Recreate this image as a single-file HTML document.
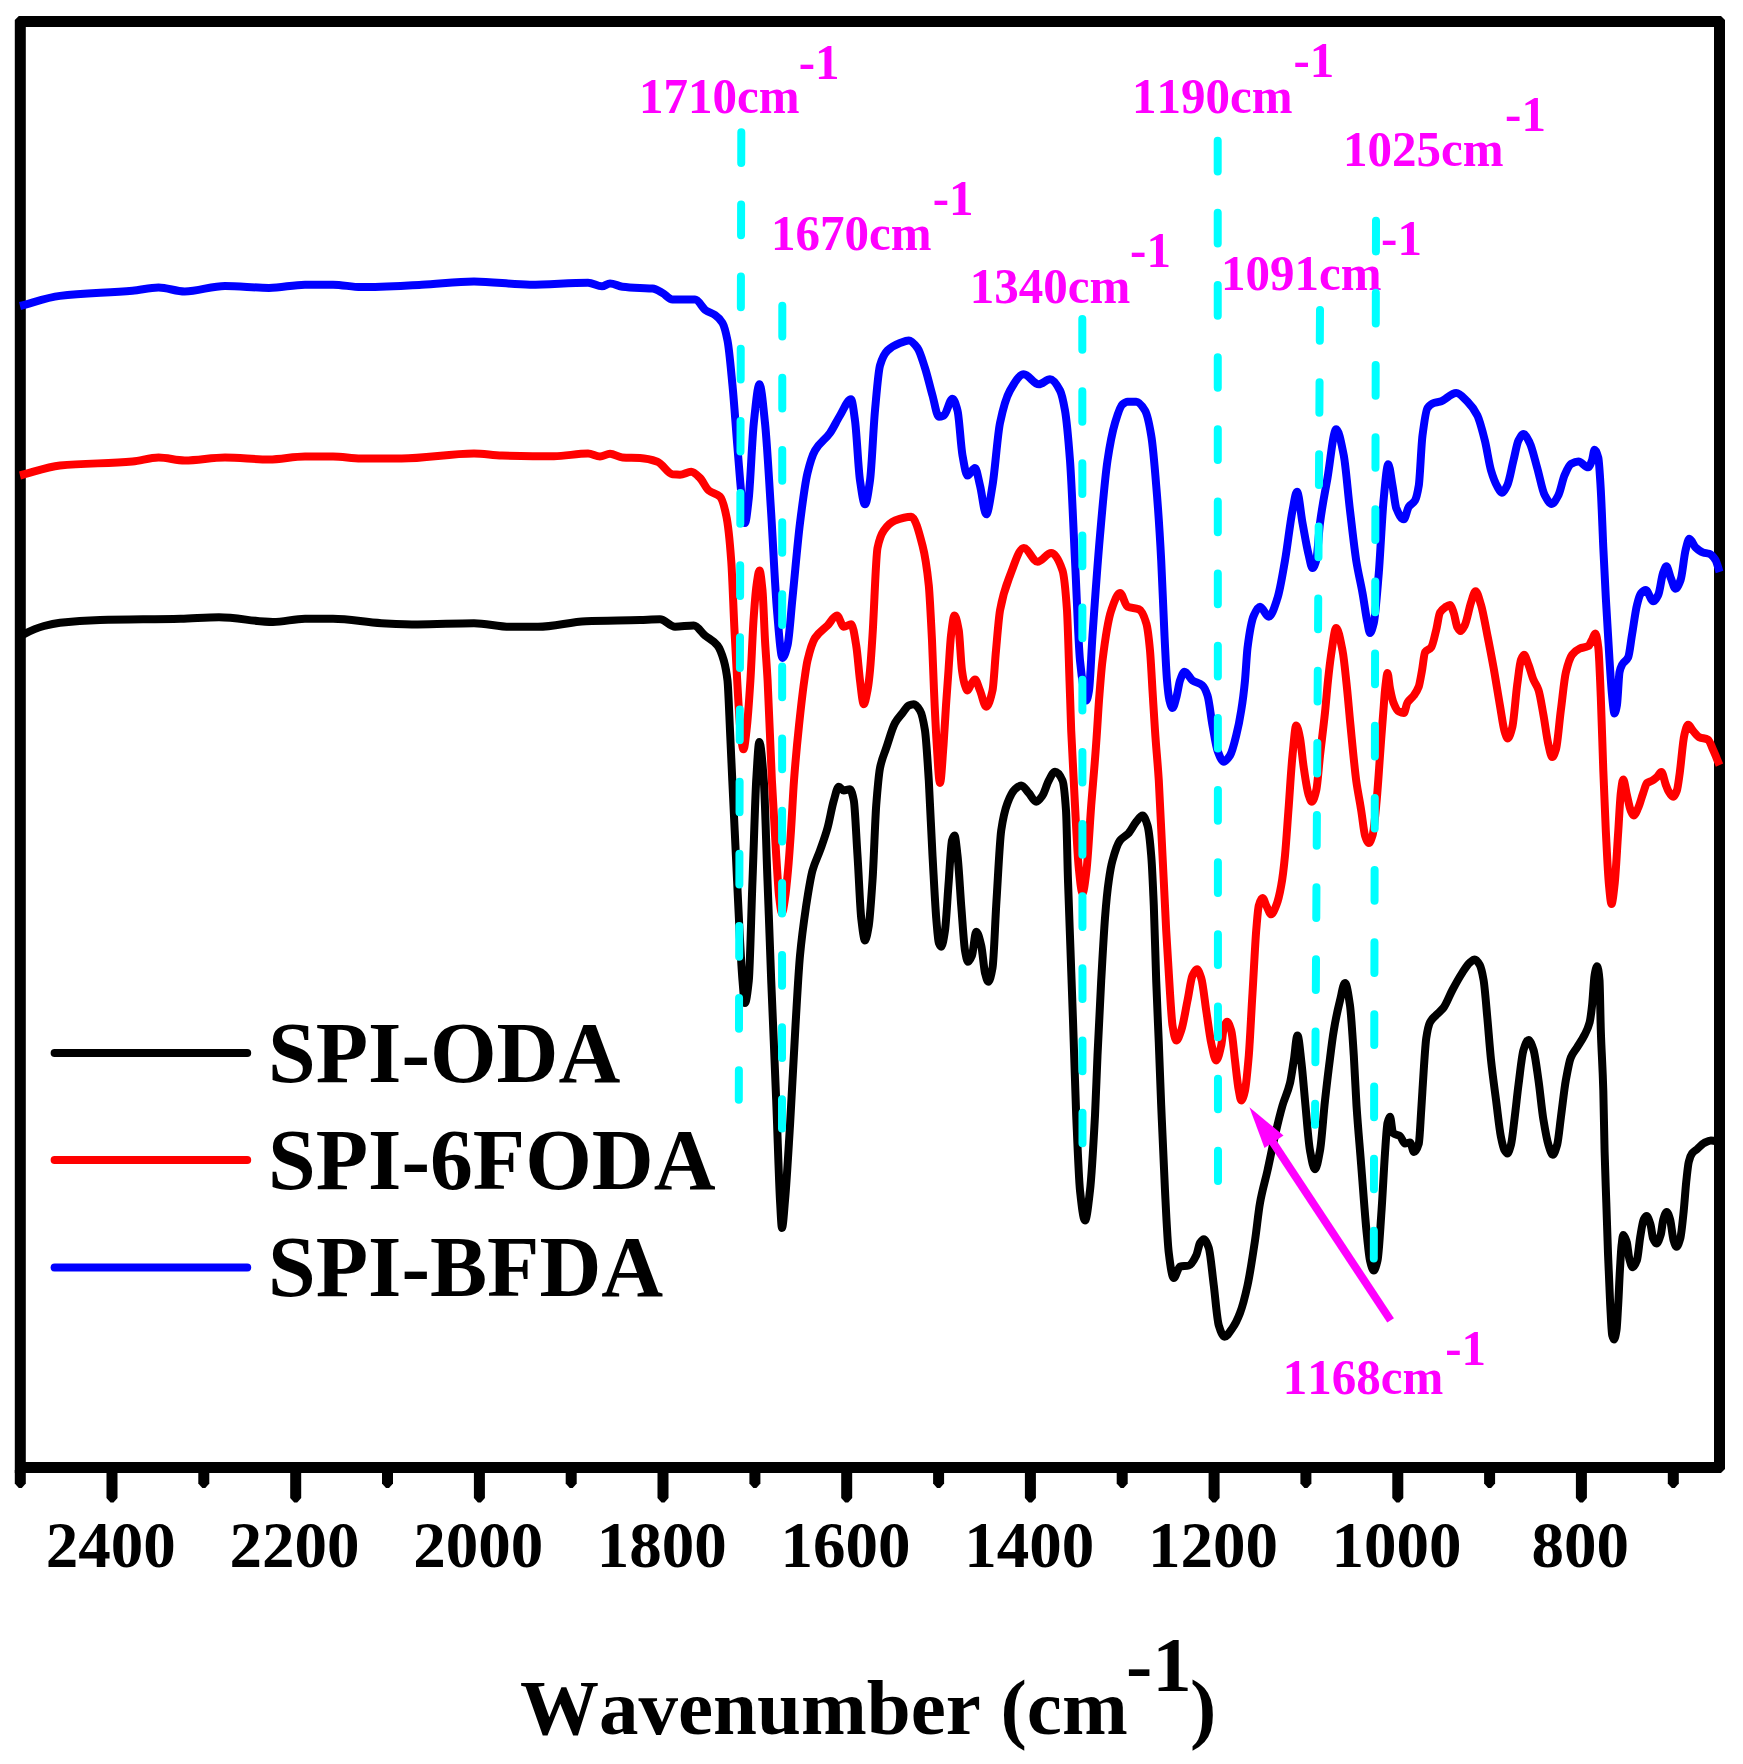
<!DOCTYPE html>
<html><head><meta charset="utf-8"><title>FTIR spectra</title>
<style>
html,body{margin:0;padding:0;background:#fff;}
svg{display:block;}
text{font-family:"Liberation Serif","Times New Roman",serif;font-weight:bold;font-kerning:none;}
.cv{fill:none;stroke-width:8;stroke-linejoin:round;stroke-linecap:butt;}
.cy{fill:none;stroke:#00ffff;stroke-width:8;stroke-linecap:round;stroke-dasharray:30.7 41.45;}
.mg{fill:#ff00ff;font-size:49px;}
.tk{font-size:65px;text-anchor:middle;fill:#000;}
.lg{font-size:85.7px;fill:#000;}
</style></head><body>
<svg width="1743" height="1764" viewBox="0 0 1743 1764">
<rect x="0" y="0" width="1743" height="1764" fill="#fff"/>
<path fill="#000" fill-rule="evenodd" d="M18.8 16H1721L1725 20V1469L1721 1473H14.8V20ZM25.8 27V1462H1714V27Z"/>
<g transform="translate(0 0.5)">
<path class="cv" stroke="#000" d="M20.0 636.0C21.3 635.2 22.7 634.3 24.0 633.6C30.7 630.2 37.3 627.3 44.0 625.5C49.3 624.1 54.7 622.9 60.0 622.3C73.3 620.8 86.7 619.9 100.0 619.5C126.9 618.8 153.8 618.9 180.7 618.3C193.5 618.0 206.2 616.7 219.0 616.7C237.0 616.7 255.0 621.5 273.0 621.5C283.7 621.5 294.3 618.3 305.0 618.3C314.3 618.3 323.7 618.3 333.0 618.3C349.2 618.3 365.3 621.9 381.5 622.7C393.6 623.3 405.6 624.0 417.7 624.0C436.5 624.0 455.2 622.7 474.0 622.7C486.0 622.7 498.0 626.3 510.0 626.3C519.3 626.3 528.7 626.3 538.0 626.3C554.0 626.3 570.0 621.3 586.0 620.7C604.0 620.0 622.0 620.0 640.0 619.5C646.7 619.3 653.3 618.8 660.0 618.8C665.0 618.8 670.0 626.2 675.0 626.2C681.2 626.2 687.5 625.0 693.8 625.0C697.5 625.0 701.2 631.8 705.0 635.0C709.2 638.5 713.3 639.7 717.5 645.0C719.6 647.6 721.7 652.9 723.8 660.0C725.0 664.3 726.2 669.1 727.5 680.0C728.3 687.3 729.2 712.6 730.0 730.0C730.8 746.0 731.5 763.7 732.3 780.0C733.5 805.6 734.7 830.0 735.9 855.0C737.1 880.0 738.3 907.9 739.5 930.0C740.5 948.5 741.5 968.4 742.5 980.0C743.3 989.7 744.2 1002.5 745.0 1002.5C746.2 1002.5 747.5 992.2 748.8 980.0C750.0 967.8 751.2 913.3 752.5 880.0C753.8 846.7 755.0 801.2 756.2 780.0C757.3 762.8 758.3 741.5 759.3 741.5C760.8 741.5 762.3 760.3 763.8 780.0C765.0 796.6 766.2 846.7 767.5 880.0C768.8 913.3 770.0 948.3 771.2 980.0C772.9 1022.2 774.6 1057.8 776.2 1100.0C777.5 1131.7 778.8 1178.0 780.0 1200.0C780.7 1211.7 781.3 1227.5 782.0 1227.5C783.0 1227.5 784.0 1211.2 785.0 1200.0C786.7 1181.4 788.3 1152.4 790.0 1125.0C791.8 1094.9 793.7 1055.7 795.5 1025.0C797.0 999.9 798.5 971.1 800.0 955.0C802.1 932.6 804.2 918.7 806.2 905.0C808.3 891.3 810.4 877.6 812.5 870.0C815.0 860.9 817.5 857.1 820.0 850.0C822.5 842.9 825.0 836.5 827.5 827.5C829.6 820.0 831.7 807.0 833.8 800.0C835.4 794.4 837.1 786.2 838.8 786.2C840.4 786.2 842.1 790.0 843.8 790.0C845.8 790.0 847.9 788.8 850.0 788.8C851.2 788.8 852.5 793.8 853.8 800.0C855.0 806.2 856.2 835.5 857.5 855.0C858.8 874.5 860.0 906.5 861.2 917.5C862.5 928.5 863.8 940.0 865.0 940.0C866.2 940.0 867.5 932.5 868.8 925.0C870.0 917.5 871.2 898.8 872.5 880.0C873.8 861.2 875.0 821.7 876.2 805.0C877.5 788.3 878.8 773.8 880.0 767.5C882.1 756.9 884.2 753.8 886.2 747.5C889.2 738.7 892.1 727.8 895.0 722.5C897.5 718.0 900.0 715.7 902.5 712.5C904.6 709.9 906.7 705.8 908.8 705.0C910.4 704.3 912.1 703.8 913.8 703.8C915.8 703.8 917.9 706.6 920.0 710.0C921.7 712.7 923.3 719.5 925.0 730.0C926.2 737.9 927.5 760.0 928.8 780.0C930.0 800.0 931.2 832.3 932.5 855.0C933.8 877.7 935.0 902.1 936.2 917.5C937.1 927.7 937.9 940.3 938.8 942.5C939.6 944.7 940.4 946.2 941.2 946.2C942.5 946.2 943.8 938.2 945.0 930.0C946.2 921.8 947.5 896.0 948.8 880.0C949.8 866.1 950.9 843.6 952.0 840.0C952.8 837.2 953.7 835.0 954.5 835.0C955.5 835.0 956.5 846.2 957.5 855.0C958.8 866.0 960.0 889.2 961.2 905.0C962.5 920.8 963.8 943.0 965.0 950.0C966.0 955.6 967.0 961.2 968.0 961.2C969.3 961.2 970.7 958.2 972.0 955.0C973.4 951.6 974.8 931.2 976.2 931.2C977.9 931.2 979.6 938.2 981.2 945.0C982.5 950.1 983.8 967.6 985.0 972.5C986.1 976.7 987.2 981.2 988.2 981.2C989.7 981.2 991.1 975.3 992.5 967.5C993.8 960.6 995.0 924.8 996.2 905.0C997.9 878.6 999.6 841.6 1001.2 830.0C1003.3 815.5 1005.4 808.0 1007.5 802.5C1010.0 795.9 1012.5 791.0 1015.0 788.8C1017.1 786.9 1019.2 785.0 1021.2 785.0C1023.8 785.0 1026.2 789.8 1028.8 792.5C1031.2 795.2 1033.8 801.2 1036.2 801.2C1038.3 801.2 1040.4 797.9 1042.5 795.0C1044.6 792.1 1046.7 783.7 1048.8 780.0C1050.8 776.3 1052.9 771.2 1055.0 771.2C1057.5 771.2 1060.0 774.3 1062.5 780.0C1063.7 782.6 1064.8 793.0 1066.0 810.0C1066.7 819.7 1067.3 859.2 1068.0 880.0C1068.8 906.0 1069.7 926.7 1070.5 950.0C1071.3 973.3 1072.2 996.2 1073.0 1020.0C1074.1 1051.0 1075.2 1089.2 1076.2 1115.0C1077.5 1144.8 1078.8 1178.2 1080.0 1190.0C1081.7 1205.8 1083.3 1220.0 1085.0 1220.0C1086.7 1220.0 1088.3 1204.3 1090.0 1190.0C1091.7 1175.7 1093.3 1146.6 1095.0 1115.0C1095.8 1099.2 1096.7 1073.3 1097.5 1055.0C1098.8 1027.6 1100.0 1002.7 1101.2 980.0C1102.5 957.3 1103.8 933.1 1105.0 917.5C1106.2 901.9 1107.5 888.7 1108.8 880.0C1110.0 871.3 1111.2 864.6 1112.5 860.0C1115.0 850.8 1117.5 843.3 1120.0 840.0C1122.9 836.2 1125.8 835.7 1128.8 832.5C1131.2 829.8 1133.8 824.2 1136.2 821.2C1138.3 818.8 1140.4 815.0 1142.5 815.0C1144.2 815.0 1145.8 819.5 1147.5 825.0C1148.8 829.1 1150.0 840.3 1151.2 855.0C1152.1 864.8 1152.9 885.0 1153.8 905.0C1154.6 925.0 1155.4 957.3 1156.2 980.0C1157.1 1002.7 1157.9 1021.7 1158.8 1042.5C1159.6 1063.3 1160.4 1085.1 1161.2 1105.0C1162.5 1134.8 1163.8 1166.0 1165.0 1190.0C1166.2 1214.0 1167.5 1242.6 1168.8 1252.5C1170.4 1265.7 1172.1 1277.5 1173.8 1277.5C1175.8 1277.5 1177.9 1266.8 1180.0 1266.2C1182.9 1265.4 1185.8 1265.8 1188.8 1265.0C1191.2 1264.3 1193.8 1260.0 1196.2 1255.0C1197.5 1252.5 1198.8 1244.4 1200.0 1242.5C1201.2 1240.6 1202.5 1238.8 1203.8 1238.8C1205.4 1238.8 1207.1 1242.8 1208.8 1247.5C1210.4 1252.2 1212.1 1272.1 1213.8 1285.0C1215.4 1297.9 1217.1 1319.7 1218.8 1325.0C1220.7 1331.1 1222.6 1336.2 1224.5 1336.2C1227.2 1336.2 1229.8 1331.3 1232.5 1327.5C1235.0 1324.0 1237.5 1319.0 1240.0 1312.5C1242.5 1306.0 1245.0 1296.4 1247.5 1285.0C1250.0 1273.6 1252.5 1256.8 1255.0 1240.0C1256.7 1228.8 1258.3 1211.8 1260.0 1202.5C1262.5 1188.5 1265.0 1181.2 1267.5 1170.0C1270.0 1158.8 1272.5 1145.8 1275.0 1135.0C1277.5 1124.2 1280.0 1113.6 1282.5 1105.0C1285.0 1096.4 1287.5 1092.9 1290.0 1082.5C1291.2 1077.3 1292.5 1067.9 1293.8 1060.0C1295.0 1052.1 1296.2 1035.0 1297.5 1035.0C1298.8 1035.0 1300.0 1049.7 1301.2 1060.0C1302.5 1070.3 1303.8 1087.1 1305.0 1100.0C1306.7 1117.2 1308.3 1140.9 1310.0 1150.0C1311.7 1159.1 1313.3 1168.8 1315.0 1168.8C1316.7 1168.8 1318.3 1159.1 1320.0 1150.0C1321.7 1140.9 1323.3 1115.2 1325.0 1100.0C1326.7 1084.8 1328.3 1071.1 1330.0 1058.0C1331.2 1048.1 1332.5 1037.4 1333.8 1030.0C1335.8 1017.6 1337.9 1008.4 1340.0 1000.0C1341.7 993.3 1343.3 982.5 1345.0 982.5C1346.7 982.5 1348.3 993.5 1350.0 1005.0C1351.2 1013.6 1352.5 1035.6 1353.8 1055.0C1354.7 1069.2 1355.6 1091.1 1356.5 1105.0C1358.1 1129.0 1359.7 1145.1 1361.2 1165.0C1362.9 1185.9 1364.6 1210.6 1366.2 1227.5C1367.5 1240.2 1368.8 1254.9 1370.0 1260.0C1371.2 1265.1 1372.5 1270.0 1373.8 1270.0C1375.0 1270.0 1376.2 1265.5 1377.5 1260.0C1378.8 1254.5 1380.0 1232.4 1381.2 1215.0C1382.5 1197.6 1383.8 1169.8 1385.0 1152.5C1385.8 1141.0 1386.7 1125.9 1387.5 1122.5C1388.3 1119.1 1389.2 1116.2 1390.0 1116.2C1391.0 1116.2 1392.0 1131.6 1393.0 1132.5C1395.3 1134.6 1397.7 1133.9 1400.0 1135.5C1401.7 1136.6 1403.3 1143.0 1405.0 1143.0C1406.7 1143.0 1408.3 1142.0 1410.0 1142.0C1411.3 1142.0 1412.7 1151.5 1414.0 1151.5C1415.6 1151.5 1417.2 1148.4 1418.8 1143.0C1419.6 1140.2 1420.4 1121.9 1421.2 1110.0C1422.0 1097.8 1422.9 1081.9 1423.7 1070.0C1424.5 1058.1 1425.4 1043.6 1426.2 1038.0C1427.4 1029.8 1428.7 1024.4 1429.9 1022.0C1432.0 1017.9 1434.1 1016.8 1436.2 1014.5C1438.7 1011.8 1441.2 1010.3 1443.7 1007.0C1446.6 1003.2 1449.5 994.9 1452.4 989.5C1455.7 983.3 1459.1 977.1 1462.4 972.1C1464.9 968.4 1467.3 964.1 1469.8 962.1C1471.5 960.7 1473.1 959.1 1474.8 959.1C1476.5 959.1 1478.1 961.7 1479.8 964.6C1481.1 966.8 1482.3 972.4 1483.6 979.6C1484.8 986.6 1486.1 1003.8 1487.3 1017.0C1488.5 1030.2 1489.8 1047.7 1491.0 1059.4C1492.7 1075.2 1494.3 1086.4 1496.0 1099.3C1497.7 1112.2 1499.3 1128.5 1501.0 1136.7C1502.1 1142.1 1503.2 1147.2 1504.3 1149.2C1505.3 1151.0 1506.3 1152.9 1507.3 1152.9C1508.5 1152.9 1509.8 1148.6 1511.0 1144.2C1512.2 1139.8 1513.5 1126.5 1514.7 1116.7C1516.0 1106.6 1517.2 1094.1 1518.5 1084.3C1520.2 1071.4 1521.8 1054.6 1523.5 1049.4C1525.2 1044.2 1526.8 1039.4 1528.5 1039.4C1530.2 1039.4 1531.8 1044.4 1533.5 1049.4C1535.1 1054.3 1536.8 1068.0 1538.4 1079.3C1540.1 1090.8 1541.7 1109.0 1543.4 1119.2C1545.1 1129.4 1546.7 1139.0 1548.4 1144.2C1549.8 1148.7 1551.3 1154.2 1552.7 1154.2C1554.2 1154.2 1555.7 1149.4 1557.2 1144.2C1558.4 1139.9 1559.7 1125.9 1560.9 1116.7C1562.6 1104.3 1564.2 1088.6 1565.9 1079.3C1567.6 1070.0 1569.2 1060.9 1570.9 1056.9C1573.0 1051.9 1575.0 1050.3 1577.1 1046.9C1579.6 1042.8 1582.1 1039.4 1584.6 1034.4C1586.3 1031.0 1587.9 1028.4 1589.6 1022.0C1590.4 1018.8 1591.3 1011.9 1592.1 1004.5C1592.9 997.1 1593.8 979.1 1594.6 974.6C1595.4 970.1 1596.3 965.8 1597.1 965.8C1597.9 965.8 1598.7 971.0 1599.5 979.6C1599.9 984.3 1600.4 1016.2 1600.8 1029.4C1601.6 1054.7 1602.5 1062.4 1603.3 1090.0C1603.7 1104.3 1604.2 1135.0 1604.6 1151.0C1605.2 1171.9 1605.7 1185.0 1606.3 1202.0C1606.9 1219.0 1607.4 1238.1 1608.0 1253.0C1608.7 1272.3 1609.5 1290.5 1610.2 1304.0C1610.9 1316.3 1611.5 1332.0 1612.2 1334.7C1612.8 1337.1 1613.4 1339.0 1614.0 1339.0C1614.8 1339.0 1615.7 1334.8 1616.5 1329.6C1617.1 1326.1 1617.6 1313.7 1618.2 1304.0C1618.8 1294.3 1619.3 1279.7 1619.9 1270.0C1620.5 1260.3 1621.0 1249.5 1621.6 1244.6C1622.2 1239.7 1622.7 1234.4 1623.3 1234.4C1624.4 1234.4 1625.6 1237.6 1626.7 1241.2C1627.6 1243.9 1628.4 1255.0 1629.3 1258.2C1630.4 1262.4 1631.6 1266.7 1632.7 1266.7C1634.1 1266.7 1635.5 1263.7 1636.9 1259.9C1638.0 1256.9 1639.2 1242.6 1640.3 1236.0C1641.4 1229.4 1642.6 1221.1 1643.7 1219.0C1644.7 1217.2 1645.6 1215.6 1646.6 1215.6C1647.9 1215.6 1649.2 1220.0 1650.5 1224.1C1651.4 1226.8 1652.2 1235.7 1653.1 1237.8C1654.2 1240.5 1655.4 1242.9 1656.5 1242.9C1657.9 1242.9 1659.3 1238.8 1660.7 1234.4C1661.6 1231.7 1662.4 1221.9 1663.3 1219.0C1664.4 1215.2 1665.6 1211.4 1666.7 1211.4C1667.8 1211.4 1669.0 1215.3 1670.1 1219.0C1671.2 1222.7 1672.4 1235.8 1673.5 1239.5C1674.5 1242.8 1675.5 1246.3 1676.5 1246.3C1677.8 1246.3 1679.0 1242.3 1680.3 1237.8C1681.4 1233.8 1682.6 1221.3 1683.7 1210.5C1684.5 1202.5 1685.4 1189.4 1686.2 1181.6C1687.1 1173.5 1687.9 1164.6 1688.8 1161.2C1689.9 1156.8 1691.1 1154.2 1692.2 1152.7C1693.9 1150.5 1695.6 1149.9 1697.3 1148.5C1699.6 1146.6 1701.8 1143.7 1704.1 1142.5C1706.4 1141.3 1708.6 1140.0 1710.9 1140.0C1713.8 1140.0 1716.6 1141.0 1719.5 1141.5"/>
<path class="cv" stroke="#f00" d="M20.0 475.0C33.3 471.7 46.7 466.3 60.0 465.0C84.2 462.7 108.3 463.1 132.5 461.0C141.2 460.2 149.9 457.0 158.6 457.0C167.3 457.0 176.0 460.0 184.7 460.0C198.1 460.0 211.6 457.0 225.0 457.0C239.7 457.0 254.3 459.0 269.0 459.0C281.0 459.0 293.0 456.0 305.0 456.0C314.3 456.0 323.7 456.0 333.0 456.0C342.3 456.0 351.7 458.0 361.0 458.0C374.5 458.0 388.1 458.0 401.6 458.0C425.7 458.0 449.9 453.0 474.0 453.0C483.3 453.0 492.7 454.8 502.0 455.0C519.3 455.4 536.7 455.7 554.0 455.7C565.3 455.7 576.7 453.0 588.0 453.0C592.0 453.0 596.0 456.0 600.0 456.0C603.3 456.0 606.7 453.3 610.0 453.3C614.2 453.3 618.3 456.8 622.5 457.0C628.3 457.3 634.2 457.2 640.0 457.5C645.8 457.8 651.7 459.2 657.5 461.2C662.5 463.0 667.5 473.2 672.5 473.8C675.0 474.0 677.5 474.2 680.0 474.2C683.8 474.2 687.5 471.2 691.2 471.2C694.2 471.2 697.1 474.7 700.0 477.5C702.9 480.3 705.8 487.6 708.8 490.0C712.5 493.1 716.2 492.5 720.0 496.2C722.1 498.3 724.2 505.4 726.2 515.0C727.9 522.6 729.6 538.2 731.2 560.0C732.3 574.2 733.4 608.5 734.5 630.0C735.4 647.9 736.3 664.5 737.2 680.0C738.1 696.1 739.1 715.9 740.0 725.0C741.2 736.3 742.3 748.8 743.5 748.8C744.5 748.8 745.5 738.3 746.5 730.0C747.8 719.2 749.1 700.2 750.4 680.0C751.4 663.9 752.5 635.0 753.5 620.0C754.5 605.5 755.5 592.0 756.5 585.0C757.5 578.0 758.5 570.0 759.5 570.0C760.5 570.0 761.5 579.8 762.5 590.0C763.3 598.5 764.2 625.5 765.0 640.0C765.9 655.1 766.7 664.2 767.6 680.0C769.0 706.1 770.5 751.6 771.9 780.0C773.4 808.7 774.8 832.3 776.2 855.0C777.2 869.4 778.1 887.3 779.0 895.0C780.0 903.4 781.0 912.5 782.0 912.5C783.0 912.5 784.0 904.4 785.0 898.0C786.0 891.6 787.0 881.0 788.0 870.0C789.0 859.0 790.0 844.8 791.0 830.0C792.0 815.2 793.0 793.5 794.0 780.0C795.7 757.5 797.3 741.0 799.0 725.0C800.8 708.0 802.5 692.6 804.3 680.0C805.4 672.4 806.4 664.5 807.5 660.0C810.0 649.4 812.5 641.4 815.0 637.5C819.2 631.0 823.3 629.3 827.5 625.0C830.7 621.7 833.8 615.0 837.0 615.0C839.2 615.0 841.5 626.2 843.8 626.2C846.2 626.2 848.8 623.8 851.2 623.8C852.9 623.8 854.6 635.1 856.2 645.0C857.5 652.4 858.8 670.6 860.0 680.0C861.2 689.4 862.5 703.8 863.8 703.8C865.0 703.8 866.2 696.4 867.5 690.0C868.3 685.7 869.2 678.5 870.0 670.0C870.8 661.5 871.7 647.8 872.5 635.0C874.2 609.4 875.8 555.8 877.5 547.5C879.6 537.2 881.7 533.0 883.8 530.0C887.5 524.7 891.2 521.4 895.0 520.0C900.4 517.9 905.8 516.2 911.2 516.2C915.0 516.2 918.8 530.7 922.5 545.0C924.6 552.9 926.7 564.7 928.8 585.0C929.8 595.6 930.9 617.8 932.0 640.0C932.7 653.7 933.3 675.1 934.0 690.0C934.8 708.6 935.7 727.2 936.5 740.0C937.7 757.9 938.8 782.5 940.0 782.5C941.2 782.5 942.3 760.1 943.5 745.0C944.3 734.2 945.2 717.4 946.0 705.0C946.8 692.6 947.7 681.7 948.5 670.0C949.3 658.3 950.2 641.9 951.0 635.0C952.2 625.3 953.3 615.0 954.5 615.0C955.9 615.0 957.3 622.0 958.8 630.0C959.8 636.1 960.9 662.3 962.0 670.0C963.0 677.1 964.0 682.2 965.0 685.0C965.8 687.4 966.7 690.0 967.5 690.0C968.7 690.0 969.8 685.7 971.0 684.0C972.3 682.1 973.7 679.0 975.0 679.0C976.7 679.0 978.3 686.0 980.0 690.0C982.1 695.0 984.2 706.2 986.2 706.2C988.3 706.2 990.4 699.4 992.5 690.0C993.7 684.7 994.8 662.5 996.0 650.0C997.3 635.8 998.7 617.4 1000.0 610.0C1003.3 591.4 1006.7 583.6 1010.0 575.0C1014.6 563.2 1019.2 547.5 1023.8 547.5C1028.3 547.5 1032.9 561.2 1037.5 561.2C1042.1 561.2 1046.7 552.5 1051.2 552.5C1055.0 552.5 1058.8 559.0 1062.5 570.0C1064.0 574.4 1065.5 588.7 1067.0 610.0C1067.8 621.8 1068.7 656.4 1069.5 680.0C1070.1 696.5 1070.7 716.0 1071.2 730.0C1072.5 760.1 1073.8 782.3 1075.0 805.0C1076.2 827.7 1077.5 855.6 1078.8 867.5C1080.0 879.4 1081.2 892.5 1082.5 892.5C1083.8 892.5 1085.0 881.9 1086.2 872.5C1087.9 860.0 1089.6 826.6 1091.2 805.0C1092.9 783.4 1094.6 765.8 1096.2 742.5C1097.2 729.7 1098.1 712.1 1099.0 700.0C1100.2 684.6 1101.3 669.3 1102.5 660.0C1105.4 636.7 1108.3 618.6 1111.2 610.0C1114.2 601.4 1117.1 592.5 1120.0 592.5C1122.5 592.5 1125.0 605.2 1127.5 606.2C1131.2 607.8 1135.0 607.2 1138.8 608.8C1141.2 609.8 1143.8 614.6 1146.2 622.5C1147.5 626.4 1148.8 637.1 1150.0 650.0C1150.8 658.6 1151.7 676.7 1152.5 690.0C1153.3 703.3 1154.2 717.8 1155.0 730.0C1156.2 748.3 1157.5 760.0 1158.8 780.0C1160.0 800.0 1161.2 830.0 1162.5 855.0C1163.8 880.0 1165.0 907.3 1166.2 930.0C1167.5 952.7 1168.8 974.4 1170.0 992.5C1170.8 1004.6 1171.7 1019.7 1172.5 1025.0C1173.8 1032.9 1175.0 1040.0 1176.2 1040.0C1177.9 1040.0 1179.6 1034.6 1181.2 1030.0C1183.3 1024.2 1185.4 1010.2 1187.5 1000.0C1189.2 991.8 1190.8 978.6 1192.5 975.0C1194.0 971.8 1195.5 968.8 1197.0 968.8C1198.4 968.8 1199.8 973.1 1201.2 977.5C1202.9 982.6 1204.6 999.2 1206.2 1010.0C1207.9 1020.8 1209.6 1034.9 1211.2 1042.5C1212.9 1050.1 1214.6 1060.0 1216.2 1060.0C1217.9 1060.0 1219.6 1052.3 1221.2 1045.0C1222.1 1041.3 1222.9 1030.1 1223.8 1027.5C1224.8 1024.1 1225.9 1021.2 1227.0 1021.2C1228.4 1021.2 1229.8 1025.3 1231.2 1030.0C1232.5 1034.1 1233.8 1050.0 1235.0 1060.0C1236.2 1070.0 1237.5 1083.5 1238.8 1090.0C1239.6 1094.3 1240.4 1100.0 1241.2 1100.0C1242.5 1100.0 1243.8 1095.2 1245.0 1090.0C1246.2 1084.8 1247.5 1070.0 1248.8 1055.0C1250.0 1040.0 1251.2 1013.3 1252.5 992.5C1253.8 971.7 1255.0 945.4 1256.2 930.0C1257.1 919.8 1257.9 907.9 1258.8 905.0C1260.0 900.6 1261.2 897.5 1262.5 897.5C1263.8 897.5 1265.0 902.7 1266.2 905.0C1267.9 908.1 1269.6 913.8 1271.2 913.8C1272.9 913.8 1274.6 909.1 1276.2 905.0C1277.9 900.9 1279.6 894.0 1281.2 885.0C1282.5 878.2 1283.8 867.5 1285.0 855.0C1286.2 842.5 1287.5 821.7 1288.8 805.0C1290.0 788.3 1291.2 767.5 1292.5 755.0C1293.8 742.5 1295.0 725.0 1296.2 725.0C1297.5 725.0 1298.8 731.6 1300.0 737.5C1301.2 743.4 1302.5 759.3 1303.8 767.5C1305.4 778.5 1307.1 790.4 1308.8 795.0C1309.8 798.0 1310.9 801.2 1312.0 801.2C1313.4 801.2 1314.8 795.9 1316.2 790.0C1317.5 784.8 1318.8 766.2 1320.0 755.0C1321.7 740.1 1323.3 728.0 1325.0 712.0C1326.0 702.4 1327.0 689.4 1328.0 680.0C1329.0 670.6 1330.0 661.6 1331.0 655.0C1332.8 643.5 1334.5 627.5 1336.2 627.5C1338.3 627.5 1340.4 639.3 1342.5 650.0C1343.8 656.4 1345.0 668.6 1346.2 680.0C1347.5 691.4 1348.8 707.3 1350.0 720.0C1352.1 741.1 1354.2 764.7 1356.2 780.0C1357.9 792.2 1359.6 799.4 1361.2 810.0C1362.5 817.9 1363.8 831.2 1365.0 835.0C1366.2 838.8 1367.5 842.5 1368.8 842.5C1370.0 842.5 1371.2 839.0 1372.5 835.0C1373.8 831.0 1375.0 817.5 1376.2 805.0C1377.5 792.5 1378.8 771.7 1380.0 755.0C1381.2 738.3 1382.5 720.2 1383.8 705.0C1384.3 697.9 1384.9 689.7 1385.5 685.0C1386.2 679.6 1386.8 672.5 1387.5 672.5C1388.3 672.5 1389.2 683.9 1390.0 688.0C1391.2 694.2 1392.5 700.1 1393.8 703.0C1395.4 706.9 1397.1 710.2 1398.8 711.0C1400.4 711.8 1402.1 712.5 1403.8 712.5C1405.0 712.5 1406.2 704.1 1407.5 702.0C1409.6 698.5 1411.7 697.9 1413.8 695.0C1415.4 692.7 1417.1 690.5 1418.8 686.0C1419.8 683.0 1420.9 675.9 1422.0 670.0C1423.0 664.6 1424.0 653.4 1425.0 651.8C1427.1 648.6 1429.1 649.6 1431.2 646.8C1432.9 644.6 1434.5 636.0 1436.2 629.4C1437.5 624.4 1438.7 614.1 1440.0 612.0C1441.7 609.2 1443.3 608.2 1445.0 607.0C1446.6 605.9 1448.3 604.4 1449.9 604.4C1451.1 604.4 1452.4 608.7 1453.6 612.0C1454.9 615.4 1456.1 624.6 1457.4 626.9C1458.4 628.7 1459.4 630.6 1460.4 630.6C1461.9 630.6 1463.4 627.3 1464.9 624.4C1466.9 620.4 1469.0 607.9 1471.0 602.0C1472.5 597.5 1474.1 590.7 1475.6 590.7C1477.4 590.7 1479.2 598.5 1481.0 604.4C1483.1 611.3 1485.2 623.9 1487.3 634.4C1489.4 644.7 1491.4 655.3 1493.5 666.8C1495.6 678.5 1497.7 692.2 1499.8 704.2C1501.5 713.7 1503.1 726.9 1504.8 731.7C1505.8 734.6 1506.8 737.9 1507.8 737.9C1509.3 737.9 1510.8 732.5 1512.3 726.7C1513.9 720.4 1515.6 696.4 1517.2 684.3C1518.5 674.9 1519.7 662.6 1521.0 659.3C1522.0 656.7 1523.0 654.3 1524.0 654.3C1525.5 654.3 1527.0 660.5 1528.5 664.3C1530.2 668.5 1531.8 675.3 1533.5 679.3C1535.1 683.3 1536.8 684.6 1538.4 689.3C1540.1 694.1 1541.7 705.1 1543.4 714.2C1545.1 723.3 1546.7 737.1 1548.4 744.1C1549.7 749.4 1550.9 756.6 1552.2 756.6C1553.4 756.6 1554.7 753.0 1555.9 749.1C1557.6 743.9 1559.2 722.1 1560.9 709.2C1562.6 696.3 1564.2 678.7 1565.9 671.8C1568.0 663.2 1570.0 657.0 1572.1 654.3C1574.6 651.0 1577.1 649.2 1579.6 648.1C1582.5 646.8 1585.4 647.2 1588.3 645.6C1589.5 644.9 1590.8 641.6 1592.0 639.4C1593.1 637.4 1594.2 633.1 1595.3 633.1C1596.3 633.1 1597.3 639.3 1598.3 646.9C1599.1 653.2 1600.0 676.9 1600.8 696.7C1601.6 716.5 1602.5 748.0 1603.3 770.0C1604.1 792.0 1605.0 813.2 1605.8 830.0C1606.9 851.5 1607.9 873.9 1609.0 884.8C1609.8 893.3 1610.7 903.5 1611.5 903.5C1612.5 903.5 1613.5 893.4 1614.5 884.8C1615.8 873.9 1617.0 848.7 1618.3 830.0C1619.1 817.7 1620.0 799.3 1620.8 792.5C1621.6 786.0 1622.4 779.0 1623.2 779.0C1624.5 779.0 1625.7 789.8 1627.0 795.0C1628.2 800.1 1629.5 807.1 1630.7 810.0C1631.7 812.3 1632.7 815.0 1633.7 815.0C1635.2 815.0 1636.7 810.6 1638.2 807.4C1639.9 803.8 1641.5 797.1 1643.2 792.5C1644.5 789.0 1645.7 783.5 1647.0 782.5C1648.7 781.2 1650.3 781.2 1652.0 780.3C1653.7 779.4 1655.3 778.0 1657.0 776.5C1658.5 775.2 1659.9 771.6 1661.4 771.6C1662.8 771.6 1664.3 780.2 1665.7 784.0C1666.5 786.1 1667.3 788.6 1668.1 790.0C1669.8 792.9 1671.4 796.2 1673.1 796.2C1674.4 796.2 1675.6 793.4 1676.9 790.0C1677.7 787.8 1678.6 780.7 1679.4 775.0C1681.1 763.7 1682.7 740.8 1684.4 734.2C1685.6 729.3 1686.9 724.2 1688.1 724.2C1689.8 724.2 1691.4 728.5 1693.1 730.4C1695.2 732.7 1697.2 735.8 1699.3 736.7C1702.2 738.0 1705.2 737.6 1708.1 739.2C1709.7 740.1 1711.4 745.5 1713.0 749.1C1715.2 753.8 1717.3 759.4 1719.5 764.6"/>
<path class="cv" stroke="#00f" d="M20.0 305.5C33.3 302.1 46.7 297.0 60.0 295.4C84.2 292.5 108.3 292.5 132.5 290.2C141.2 289.4 149.9 287.0 158.6 287.0C167.3 287.0 176.0 291.0 184.7 291.0C198.1 291.0 211.6 285.4 225.0 285.4C239.7 285.4 254.3 287.4 269.0 287.4C281.0 287.4 293.0 284.2 305.0 284.2C314.3 284.2 323.7 284.2 333.0 284.2C342.3 284.2 351.7 286.6 361.0 286.6C381.2 286.6 401.5 285.2 421.7 284.2C439.1 283.4 456.6 281.0 474.0 281.0C492.7 281.0 511.3 284.2 530.0 284.2C549.3 284.2 568.7 282.2 588.0 282.2C592.7 282.2 597.3 285.8 602.0 285.8C604.7 285.8 607.3 283.0 610.0 283.0C614.2 283.0 618.3 285.7 622.5 286.2C628.3 286.9 634.2 287.2 640.0 287.5C644.2 287.7 648.3 287.7 652.5 288.0C655.8 288.3 659.2 290.7 662.5 292.5C665.8 294.3 669.2 299.0 672.5 299.0C680.0 299.0 687.5 299.0 695.0 299.0C698.7 299.0 702.3 307.6 706.0 310.0C709.0 312.0 712.0 312.4 715.0 314.5C717.5 316.2 720.0 318.3 722.5 322.5C724.2 325.3 725.8 331.6 727.5 340.0C729.2 348.4 730.8 367.6 732.5 385.0C734.2 402.4 735.8 427.5 737.5 447.5C739.2 467.5 740.8 490.9 742.5 505.0C743.3 512.1 744.2 522.5 745.0 522.5C746.2 522.5 747.5 508.8 748.8 497.5C750.4 482.4 752.1 438.1 753.8 422.5C755.7 404.5 757.6 383.8 759.5 383.8C761.3 383.8 763.2 405.2 765.0 422.5C767.0 441.4 769.0 478.9 771.0 510.0C773.0 541.1 775.0 587.3 777.0 610.0C778.8 630.8 780.7 657.5 782.5 657.5C784.2 657.5 785.8 651.6 787.5 645.0C789.2 638.4 790.8 613.7 792.5 597.5C795.0 573.2 797.5 542.5 800.0 522.5C802.5 502.5 805.0 482.8 807.5 472.5C810.0 462.2 812.5 454.4 815.0 450.0C820.0 441.2 825.0 439.6 830.0 432.5C833.3 427.8 836.7 420.3 840.0 415.0C843.7 409.1 847.3 398.8 851.0 398.8C852.3 398.8 853.7 410.3 855.0 420.0C856.7 432.1 858.3 468.7 860.0 480.0C861.7 491.3 863.3 503.8 865.0 503.8C866.7 503.8 868.3 491.8 870.0 480.0C871.7 468.2 873.3 428.3 875.0 410.0C876.7 391.7 878.3 370.7 880.0 365.0C882.5 356.5 885.0 352.4 887.5 350.0C891.7 346.0 895.8 344.1 900.0 342.5C902.9 341.4 905.8 340.0 908.8 340.0C911.7 340.0 914.6 343.7 917.5 347.5C920.0 350.8 922.5 359.8 925.0 367.5C927.5 375.2 930.0 386.2 932.5 395.0C934.6 402.3 936.7 416.2 938.8 416.2C940.4 416.2 942.1 415.7 943.8 415.0C946.7 413.8 949.6 398.2 952.5 398.2C954.2 398.2 955.8 403.8 957.5 410.0C959.2 416.2 960.8 445.8 962.5 455.0C964.2 464.2 965.8 475.0 967.5 475.0C970.0 475.0 972.5 467.5 975.0 467.5C976.7 467.5 978.3 478.4 980.0 485.0C982.1 493.2 984.2 513.8 986.2 513.8C988.3 513.8 990.4 497.2 992.5 485.0C995.0 470.3 997.5 434.4 1000.0 422.5C1003.3 406.6 1006.7 395.9 1010.0 390.0C1014.6 381.9 1019.2 373.8 1023.8 373.8C1028.8 373.8 1033.8 383.8 1038.8 383.8C1042.5 383.8 1046.2 378.8 1050.0 378.8C1053.3 378.8 1056.7 383.8 1060.0 390.0C1061.7 393.1 1063.3 400.5 1065.0 410.0C1066.7 419.5 1068.3 437.8 1070.0 460.0C1071.7 482.2 1073.3 526.7 1075.0 560.0C1076.7 593.3 1078.3 642.1 1080.0 660.0C1081.3 674.3 1082.7 682.7 1084.0 690.0C1084.8 694.1 1085.5 700.0 1086.2 700.0C1087.2 700.0 1088.1 695.3 1089.0 690.0C1090.2 683.3 1091.3 652.0 1092.5 635.0C1095.0 598.6 1097.5 563.6 1100.0 535.0C1102.5 506.4 1105.0 476.7 1107.5 460.0C1110.0 443.3 1112.5 430.8 1115.0 422.5C1117.5 414.2 1120.0 405.7 1122.5 403.8C1124.2 402.4 1125.8 401.2 1127.5 401.2C1130.4 401.2 1133.3 401.2 1136.2 401.2C1139.2 401.2 1142.1 405.2 1145.0 410.0C1147.1 413.4 1149.2 422.9 1151.2 435.0C1152.9 444.7 1154.6 465.0 1156.2 485.0C1157.9 505.0 1159.6 529.2 1161.2 560.0C1162.3 580.0 1163.4 613.2 1164.5 635.0C1165.3 651.8 1166.2 670.8 1167.0 680.0C1167.8 689.2 1168.7 696.8 1169.5 700.0C1170.5 703.9 1171.5 707.5 1172.5 707.5C1173.8 707.5 1175.0 701.7 1176.2 697.5C1177.5 693.3 1178.8 683.5 1180.0 680.0C1181.5 675.8 1183.0 671.2 1184.5 671.2C1187.2 671.2 1189.8 678.1 1192.5 680.0C1195.8 682.3 1199.2 682.1 1202.5 685.0C1204.2 686.4 1205.8 690.0 1207.5 695.0C1209.2 700.0 1210.8 715.9 1212.5 725.0C1214.2 734.1 1215.8 745.5 1217.5 750.0C1219.6 755.6 1221.7 761.2 1223.8 761.2C1225.8 761.2 1227.9 758.2 1230.0 755.0C1232.1 751.8 1234.2 743.2 1236.2 735.0C1237.9 728.4 1239.6 720.4 1241.2 710.0C1242.5 702.2 1243.8 692.6 1245.0 680.0C1245.8 671.6 1246.7 654.1 1247.5 647.5C1249.6 631.0 1251.7 619.6 1253.8 615.0C1255.8 610.4 1257.9 606.2 1260.0 606.2C1262.9 606.2 1265.8 616.2 1268.8 616.2C1271.7 616.2 1274.6 606.3 1277.5 597.5C1280.0 589.9 1282.5 574.3 1285.0 560.0C1287.5 545.7 1290.0 522.6 1292.5 510.0C1294.0 502.5 1295.5 491.2 1297.0 491.2C1298.8 491.2 1300.7 512.5 1302.5 522.5C1304.6 533.8 1306.7 546.7 1308.8 555.0C1310.0 560.0 1311.2 567.5 1312.5 567.5C1313.8 567.5 1315.0 564.2 1316.2 560.0C1317.5 555.8 1318.8 532.1 1320.0 522.5C1322.5 503.2 1325.0 492.0 1327.5 477.5C1330.4 460.6 1333.3 428.8 1336.2 428.8C1338.8 428.8 1341.2 442.3 1343.8 455.0C1345.8 465.6 1347.9 492.5 1350.0 510.0C1352.1 527.5 1354.2 546.9 1356.2 560.0C1358.3 573.1 1360.4 580.9 1362.5 592.5C1364.2 601.8 1365.8 614.7 1367.5 622.5C1368.3 626.4 1369.2 632.5 1370.0 632.5C1371.2 632.5 1372.5 627.6 1373.8 622.5C1375.4 615.7 1377.1 592.5 1378.8 572.5C1380.4 552.5 1382.1 514.1 1383.8 497.5C1385.2 482.6 1386.8 463.8 1388.2 463.8C1389.7 463.8 1391.1 477.3 1392.5 485.0C1393.8 491.8 1395.0 504.3 1396.2 507.5C1398.8 513.9 1401.2 518.8 1403.8 518.8C1405.4 518.8 1407.1 508.7 1408.8 506.2C1410.8 503.2 1412.9 503.5 1415.0 500.0C1416.2 497.9 1417.5 492.7 1418.8 485.0C1420.0 477.3 1421.2 444.9 1422.5 435.0C1424.2 421.8 1425.8 409.9 1427.5 407.5C1429.6 404.5 1431.7 403.2 1433.8 402.5C1435.8 401.8 1437.9 401.8 1440.0 401.2C1445.4 399.8 1450.8 392.5 1456.2 392.5C1460.0 392.5 1463.8 397.5 1467.5 401.2C1470.8 404.5 1474.0 408.4 1477.3 414.9C1479.8 419.9 1482.3 429.9 1484.8 439.8C1486.9 448.0 1488.9 462.9 1491.0 469.8C1493.1 476.9 1495.2 482.3 1497.3 486.0C1498.8 488.6 1500.3 492.2 1501.8 492.2C1503.6 492.2 1505.5 488.4 1507.3 484.7C1509.4 480.5 1511.4 468.1 1513.5 459.8C1515.2 453.1 1516.8 443.0 1518.5 439.8C1520.2 436.6 1521.8 433.6 1523.5 433.6C1525.6 433.6 1527.6 438.3 1529.7 442.3C1532.2 447.2 1534.7 458.6 1537.2 467.3C1539.7 476.0 1542.2 490.1 1544.7 494.7C1547.0 499.0 1549.4 503.4 1551.7 503.4C1553.9 503.4 1556.2 498.9 1558.4 494.7C1560.5 490.9 1562.5 479.4 1564.6 474.7C1566.7 469.9 1568.8 464.7 1570.9 463.5C1573.4 462.1 1575.9 461.0 1578.4 461.0C1581.7 461.0 1585.0 466.8 1588.3 466.8C1589.5 466.8 1590.8 463.0 1592.0 459.8C1592.9 457.5 1593.7 449.3 1594.6 449.3C1595.8 449.3 1597.1 452.5 1598.3 457.3C1599.1 460.5 1600.0 475.9 1600.8 489.7C1601.6 503.5 1602.5 529.2 1603.3 547.0C1604.1 564.8 1605.0 581.7 1605.8 597.0C1607.0 619.7 1608.3 640.6 1609.5 659.3C1610.3 671.9 1611.2 686.1 1612.0 694.2C1612.8 702.3 1613.7 713.0 1614.5 713.0C1615.3 713.0 1616.2 708.8 1617.0 704.2C1617.8 699.6 1618.7 675.9 1619.5 671.8C1620.3 667.7 1621.2 665.8 1622.0 664.3C1624.1 660.5 1626.1 661.2 1628.2 656.8C1629.5 654.1 1630.7 641.9 1632.0 634.4C1633.7 624.5 1635.3 611.0 1637.0 604.4C1638.2 599.5 1639.5 594.7 1640.7 593.2C1642.4 591.2 1644.0 589.5 1645.7 589.5C1648.2 589.5 1650.7 600.7 1653.2 600.7C1654.9 600.7 1656.5 597.7 1658.2 594.5C1659.9 591.3 1661.5 576.4 1663.2 572.0C1664.3 569.2 1665.3 565.8 1666.4 565.8C1667.8 565.8 1669.2 573.6 1670.6 577.0C1672.3 581.1 1673.9 588.2 1675.6 588.2C1677.3 588.2 1678.9 584.0 1680.6 579.5C1682.3 575.0 1683.9 556.2 1685.6 549.6C1686.8 544.7 1688.1 538.3 1689.3 538.3C1691.4 538.3 1693.5 545.1 1695.6 547.0C1698.1 549.3 1700.5 551.2 1703.0 552.0C1705.1 552.7 1707.2 552.6 1709.3 553.3C1711.4 554.0 1713.4 556.3 1715.5 559.5C1716.8 561.6 1718.2 567.4 1719.5 571.4"/>
</g>
<polygon fill="#000" points="14.8,1470 25.8,1470 25.8,1483.5 21.8,1488.0 18.8,1488.0 14.8,1483.5"/>
<polygon fill="#000" points="106.5,1470 117.5,1470 117.5,1497.9 113.5,1502.4 110.5,1502.4 106.5,1497.9"/>
<text class="tk" x="110.8" y="1567.3">2400</text>
<polygon fill="#000" points="198.3,1470 209.3,1470 209.3,1483.5 205.3,1488.0 202.3,1488.0 198.3,1483.5"/>
<polygon fill="#000" points="290.2,1470 301.2,1470 301.2,1497.9 297.2,1502.4 294.2,1502.4 290.2,1497.9"/>
<text class="tk" x="294.5" y="1567.3">2200</text>
<polygon fill="#000" points="382.0,1470 393.0,1470 393.0,1483.5 389.0,1488.0 386.0,1488.0 382.0,1483.5"/>
<polygon fill="#000" points="473.9,1470 484.9,1470 484.9,1497.9 480.9,1502.4 477.9,1502.4 473.9,1497.9"/>
<text class="tk" x="478.2" y="1567.3">2000</text>
<polygon fill="#000" points="565.7,1470 576.7,1470 576.7,1483.5 572.7,1488.0 569.7,1488.0 565.7,1483.5"/>
<polygon fill="#000" points="657.5,1470 668.5,1470 668.5,1497.9 664.5,1502.4 661.5,1502.4 657.5,1497.9"/>
<text class="tk" x="661.8" y="1567.3">1800</text>
<polygon fill="#000" points="749.4,1470 760.4,1470 760.4,1483.5 756.4,1488.0 753.4,1488.0 749.4,1483.5"/>
<polygon fill="#000" points="841.2,1470 852.2,1470 852.2,1497.9 848.2,1502.4 845.2,1502.4 841.2,1497.9"/>
<text class="tk" x="845.5" y="1567.3">1600</text>
<polygon fill="#000" points="933.1,1470 944.1,1470 944.1,1483.5 940.1,1488.0 937.1,1488.0 933.1,1483.5"/>
<polygon fill="#000" points="1024.9,1470 1035.9,1470 1035.9,1497.9 1031.9,1502.4 1028.9,1502.4 1024.9,1497.9"/>
<text class="tk" x="1029.2" y="1567.3">1400</text>
<polygon fill="#000" points="1116.7,1470 1127.7,1470 1127.7,1483.5 1123.7,1488.0 1120.7,1488.0 1116.7,1483.5"/>
<polygon fill="#000" points="1208.6,1470 1219.6,1470 1219.6,1497.9 1215.6,1502.4 1212.6,1502.4 1208.6,1497.9"/>
<text class="tk" x="1212.9" y="1567.3">1200</text>
<polygon fill="#000" points="1300.4,1470 1311.4,1470 1311.4,1483.5 1307.4,1488.0 1304.4,1488.0 1300.4,1483.5"/>
<polygon fill="#000" points="1392.3,1470 1403.3,1470 1403.3,1497.9 1399.3,1502.4 1396.3,1502.4 1392.3,1497.9"/>
<text class="tk" x="1396.6" y="1567.3">1000</text>
<polygon fill="#000" points="1484.1,1470 1495.1,1470 1495.1,1483.5 1491.1,1488.0 1488.1,1488.0 1484.1,1483.5"/>
<polygon fill="#000" points="1575.9,1470 1586.9,1470 1586.9,1497.9 1582.9,1502.4 1579.9,1502.4 1575.9,1497.9"/>
<text class="tk" x="1580.2" y="1567.3">800</text>
<polygon fill="#000" points="1667.8,1470 1678.8,1470 1678.8,1483.5 1674.8,1488.0 1671.8,1488.0 1667.8,1483.5"/>
<text x="520" y="1733.5" font-size="79" fill="#000" style="letter-spacing:0.00px">Wavenumber (cm</text>
<text x="1126" y="1691" font-size="79" fill="#000">-1</text>
<text x="1190" y="1733.5" font-size="79" fill="#000">)</text>
<line x1="54.6" y1="1053.1" x2="247.2" y2="1053.1" stroke="#000" stroke-width="8" stroke-linecap="round"/>
<text class="lg" x="268.1" y="1082.0">SPI-ODA</text>
<line x1="54.6" y1="1160.1" x2="247.2" y2="1160.1" stroke="#f00" stroke-width="8" stroke-linecap="round"/>
<text class="lg" x="268.1" y="1189.0">SPI-6FODA</text>
<line x1="54.6" y1="1267.6" x2="247.2" y2="1267.6" stroke="#00f" stroke-width="8" stroke-linecap="round"/>
<text class="lg" x="268.1" y="1296.3">SPI-BFDA</text>
<text class="mg" transform="translate(639.0 113.3) scale(1 1.04)">1710cm</text><text class="mg" transform="translate(798.8 78.6) scale(1 1.04)">-1</text>
<text class="mg" transform="translate(771.0 250.0) scale(1 1.04)">1670cm</text><text class="mg" transform="translate(932.7 215.0) scale(1 1.04)">-1</text>
<text class="mg" transform="translate(969.7 303.3) scale(1 1.04)">1340cm</text><text class="mg" transform="translate(1130.1 267.3) scale(1 1.04)">-1</text>
<text class="mg" transform="translate(1132.0 112.7) scale(1 1.04)">1190cm</text><text class="mg" transform="translate(1293.4 77.3) scale(1 1.04)">-1</text>
<text class="mg" transform="translate(1343.0 165.7) scale(1 1.04)">1025cm</text><text class="mg" transform="translate(1505.1 131.0) scale(1 1.04)">-1</text>
<text class="mg" transform="translate(1221.0 290.0) scale(1 1.04)">1091cm</text><text class="mg" transform="translate(1381.1 255.0) scale(1 1.04)">-1</text>
<text class="mg" transform="translate(1282.7 1393.6) scale(1 1.04)">1168cm</text><text class="mg" transform="translate(1445.2 1365.4) scale(1 1.04)">-1</text>
<path class="cy" d="M741.3 132.3 L738.8 1099.8"/>
<path class="cy" d="M782.3 305.7 L782.0 1128.5"/>
<path class="cy" d="M1082.3 319.0 L1082.5 1143.5"/>
<path class="cy" d="M1217.7 140.7 L1218.0 1181.0"/>
<path class="cy" d="M1320.0 310.0 L1315.0 1124.8"/>
<path class="cy" d="M1376.0 220.7 L1373.8 1258.5"/>
<line x1="1390.6" y1="1320.4" x2="1270" y2="1138" stroke="#ff00ff" stroke-width="8" stroke-linecap="butt"/>
<polygon fill="#ff00ff" points="1249.4,1107.2 1283.5,1135.4 1264.5,1148.1"/>
</svg>
</body></html>
